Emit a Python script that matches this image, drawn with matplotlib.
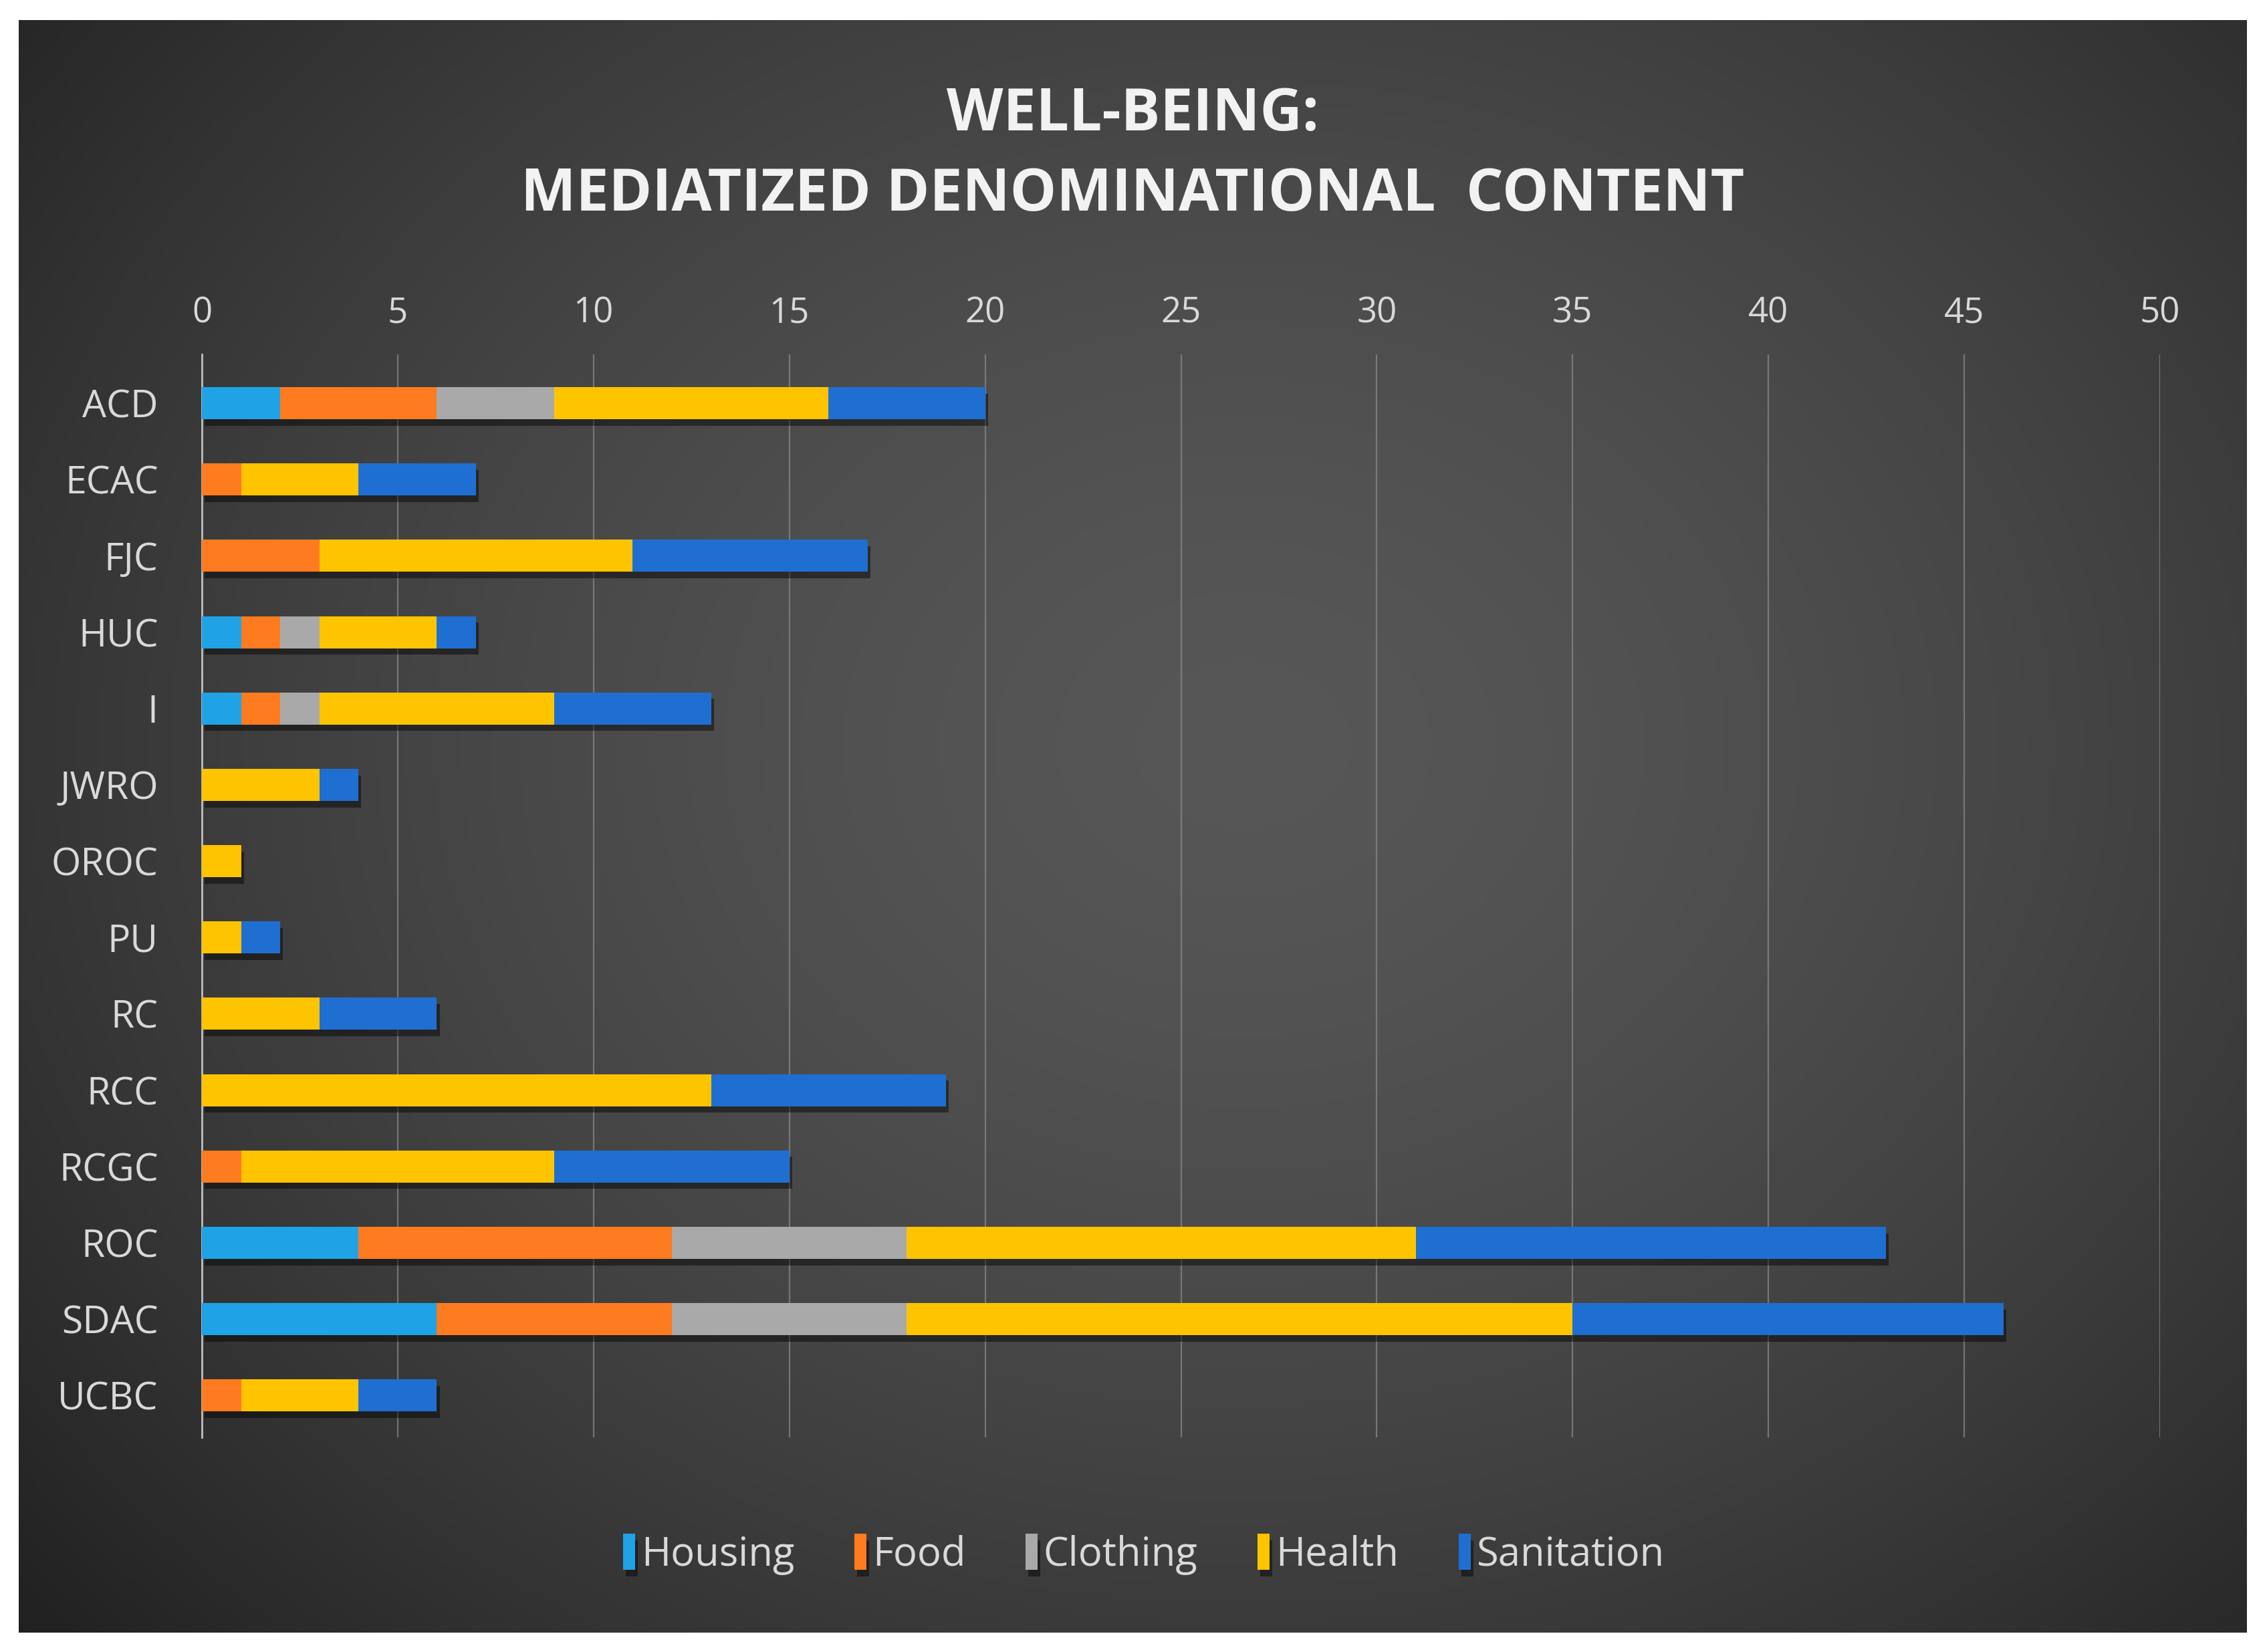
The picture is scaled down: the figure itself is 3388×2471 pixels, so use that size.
import numpy as np
import matplotlib
matplotlib.use("Agg")
import matplotlib.pyplot as plt
import matplotlib.patheffects as pe

categories = ["ACD", "ECAC", "FJC", "HUC", "I", "JWRO", "OROC", "PU", "RC",
              "RCC", "RCGC", "ROC", "SDAC", "UCBC"]
housing    = [2, 0, 0, 1, 1, 0, 0, 0, 0, 0, 0, 4, 6, 0]
food       = [4, 1, 3, 1, 1, 0, 0, 0, 0, 0, 1, 8, 6, 1]
clothing   = [3, 0, 0, 1, 1, 0, 0, 0, 0, 0, 0, 6, 6, 0]
health     = [7, 3, 8, 3, 6, 3, 1, 1, 3, 13, 8, 13, 17, 3]
sanitation = [4, 3, 6, 1, 4, 1, 0, 1, 3, 6, 6, 12, 11, 2]

series = ["Housing", "Food", "Clothing", "Health", "Sanitation"]
colors = ["#1FA3E6", "#FF7B1F", "#A9A9A9", "#FFC400", "#1F6FD2"]
xticks = [0, 5, 10, 15, 20, 25, 30, 35, 40, 45, 50]

W, H = 3388, 2471
fig = plt.figure(figsize=(W / 100, H / 100), dpi=100, facecolor="white")

# dark panel with radial gradient
bg = fig.add_axes([28 / W, 1 - 2442 / H, (3360 - 28) / W, (2442 - 30) / H])
yy, xx = np.mgrid[0:1:400j, 0:1:550j]
r = np.sqrt(((xx - 0.55) / 0.75) ** 2 + ((yy - 0.45) / 0.85) ** 2)
r = np.clip(r, 0, 1)
shade = 0.34 - 0.22 * r ** 1.6
bg.imshow(np.dstack([shade] * 3), aspect="auto", extent=[0, 1, 0, 1])
bg.set_axis_off()

ax = fig.add_axes([302 / W, 1 - 2150 / H, (3231 - 302) / W, (2150 - 530) / H])
ax.patch.set_alpha(0)

y = np.arange(len(categories))
data = [housing, food, clothing, health, sanitation]
left = np.zeros(len(categories))
shadow = [pe.SimplePatchShadow(offset=(3, -7), shadow_rgbFace="black", alpha=0.45), pe.Normal()]
for name, vals, c in zip(series, data, colors):
    vals = np.array(vals, dtype=float)
    bars = ax.barh(y, vals, left=left, height=0.42, color=c, label=name, zorder=3)
    for b in bars:
        b.set_path_effects(shadow)
    left += vals

ax.set_xlim(0, 50)
ax.set_ylim(13.55, -0.64)
ax.set_xticks(xticks)
ax.set_yticks(y)
ax.set_yticklabels(categories)
ax.xaxis.tick_top()
ax.tick_params(axis="x", length=0, labelsize=38, colors="#D9D9D9", pad=25)
ax.tick_params(axis="y", length=0, labelsize=41, colors="#D9D9D9", pad=47)
for lab in ax.get_xticklabels() + ax.get_yticklabels():
    lab.set_family("Open Sans")
ax.grid(axis="x", color="#8C8C8C", linewidth=1.6, alpha=0.7, zorder=0)
for s in ["top", "right", "bottom"]:
    ax.spines[s].set_visible(False)
ax.spines["left"].set_color("#BFBFBF")
ax.spines["left"].set_linewidth(2)

fig.text(0.5, 1 - 172 / H, "WELL-BEING:", ha="center", va="center",
         fontsize=63, fontweight="bold", color="#F2F2F2", family="Open Sans")
fig.text(0.5, 1 - 292 / H, "MEDIATIZED DENOMINATIONAL  CONTENT", ha="center", va="center",
         fontsize=63, fontweight="bold", color="#F2F2F2", family="Open Sans")

leg = fig.legend(loc="center", bbox_to_anchor=(0.505, 1 - 2325 / H), ncol=5, frameon=False,
                 handlelength=0.3, handleheight=1.0, handletextpad=0.15,
                 columnspacing=1.5, prop={"family": "Open Sans", "size": 43})
for t in leg.get_texts():
    t.set_color("#D9D9D9")

fig.savefig("out.png", dpi=100, facecolor="white")
